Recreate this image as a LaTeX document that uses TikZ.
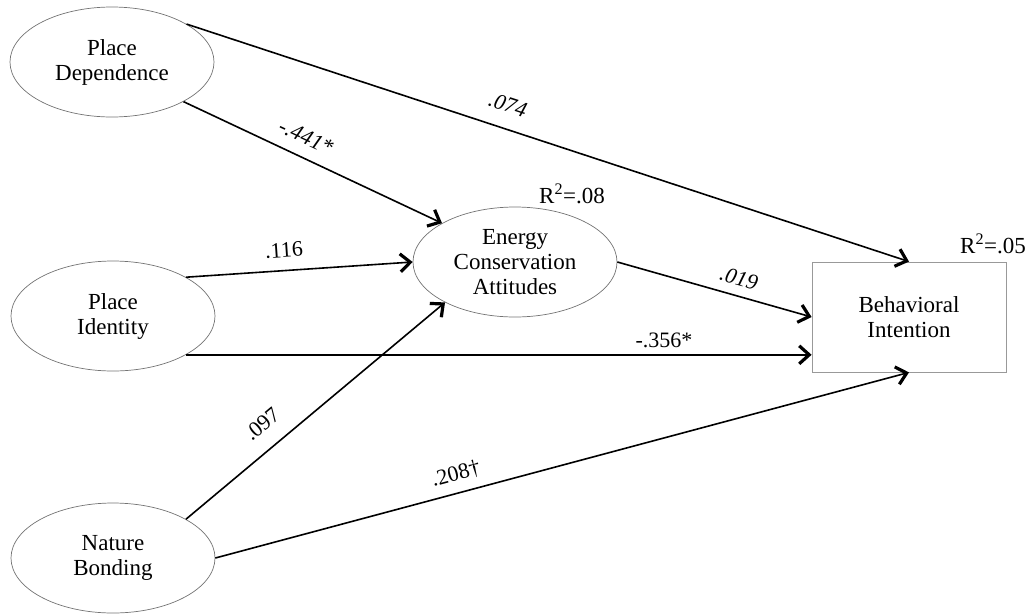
\documentclass[tikz,border=0pt]{standalone}
\usepackage{fontspec}
\setmainfont{Liberation Serif}
\usetikzlibrary{arrows.meta,shapes.geometric}
\begin{document}
\begin{tikzpicture}[x=1pt,y=-1pt,
  latent/.style={ellipse,draw=black!55,line width=0.7pt,minimum width=204pt,minimum height=110pt,inner sep=0pt,align=center,font=\fontsize{23}{25}\selectfont},
  observed/.style={rectangle,draw=black!40,line width=0.8pt,minimum width=194pt,minimum height=110pt,inner sep=0pt,align=center,font=\fontsize{23}{25}\selectfont},
  path/.style={line width=1.6pt,-{Straight Barb[length=10pt,width=18pt,line width=3.2pt]}},
  coef/.style={font=\fontsize{22}{24}\selectfont,inner sep=0pt},
  rsq/.style={font=\fontsize{23}{25}\selectfont,inner sep=0pt}]
\useasboundingbox (0,0) rectangle (1030,614);
\node[latent] (pd) at (112,62) {Place\\Dependence};
\node[latent] (pi) at (113,316) {Place\\Identity};
\node[latent] (nb) at (113,558) {Nature\\Bonding};
\node[latent] (eca) at (515,262) {Energy\\Conservation\\Attitudes};
\node[observed] (bi) at (909,317) {Behavioral\\Intention};
\draw[path] (pd.27) -- (bi.north);
\draw[path] (pd.-29) -- (eca.152);
\draw[path] (pi.28) -- (eca.west);
\draw[path] (pi.-28) -- (pi.-28 -| bi.west);
\draw[path] (nb.28) -- (eca.210);
\draw[path] (nb.east) -- (bi.south);
\draw[path] (eca.east) -- (bi.west);
\node[coef,rotate=-18] (l1) at (508,105) {\itshape .074};
\node[coef,rotate=-25] (l2) at (306,137) {\itshape -.441*};
\node[coef,rotate=4] (l3) at (284,250) {.116};
\node[coef,rotate=-16] (l4) at (739,278) {\itshape .019};
\node[coef] (l5) at (664,340) {-.356*};
\node[coef,rotate=40] (l6) at (262,424) {.097};
\node[coef,rotate=15] (l7) at (456,474) {.208†};
\node[rsq] (r1) at (572,194) {R\textsuperscript{2}=.08};
\node[rsq] (r2) at (993,244) {R\textsuperscript{2}=.05};
\end{tikzpicture}
\end{document}
